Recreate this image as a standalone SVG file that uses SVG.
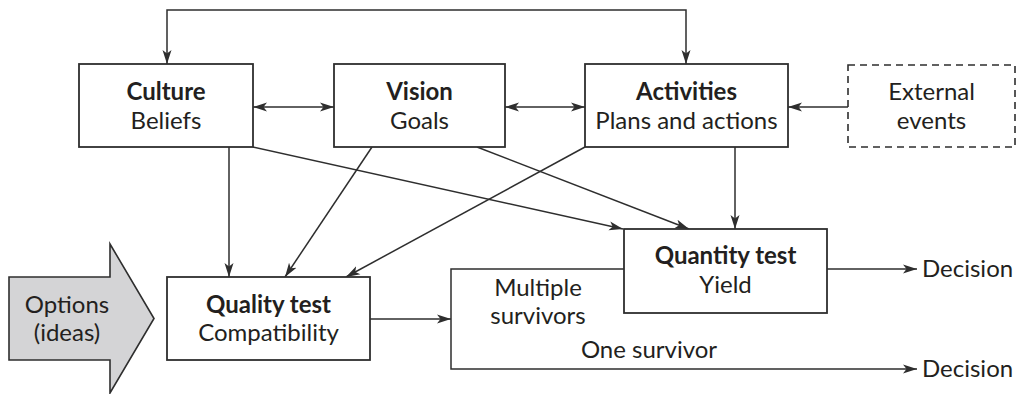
<svg xmlns="http://www.w3.org/2000/svg" width="1020" height="394" viewBox="0 0 1020 394">
  <style>
    .box { fill: #ffffff; stroke: #2e2e2e; stroke-width: 1.8; }
    .dashed { fill: #ffffff; stroke: #2e2e2e; stroke-width: 1.6; stroke-dasharray: 7 5; }
    .link { fill: none; stroke: #2e2e2e; stroke-width: 1.5; }
    .arrow { marker-end: url(#head); }
    .both { marker-start: url(#head); marker-end: url(#head); }
    text { font-family: Lato, "Liberation Sans", sans-serif; font-size: 24px; fill: #231f20; text-anchor: middle; }
    .title { font-weight: bold; }
    .left { text-anchor: start; }
  </style>
  <defs>
    <marker id="head" markerUnits="userSpaceOnUse" markerWidth="15" markerHeight="11" refX="14" refY="5.5" orient="auto-start-reverse">
      <path d="M0,1 L14,5.5 L0,10 L3.5,5.5 z" fill="#2e2e2e"/>
    </marker>
  </defs>

  <!-- connectors -->
  <g id="connectors">
    <path class="link both" d="M167,64 V10 H686 V64"/>
    <line class="link both" x1="253" y1="107" x2="334" y2="107"/>
    <line class="link both" x1="505" y1="107" x2="585" y2="107"/>
    <line class="link arrow" x1="848" y1="107" x2="788" y2="107"/>
    <line class="link arrow" x1="229" y1="147" x2="229" y2="277"/>
    <line class="link arrow" x1="372" y1="147" x2="285" y2="277"/>
    <line class="link arrow" x1="585" y1="147" x2="346" y2="277"/>
    <line class="link arrow" x1="253" y1="147" x2="623" y2="229"/>
    <line class="link arrow" x1="477" y1="147" x2="689" y2="229"/>
    <line class="link arrow" x1="735" y1="147" x2="735" y2="229"/>
    <line class="link arrow" x1="370" y1="319" x2="451" y2="319"/>
    <path class="link arrow" d="M624,269 H451 V369 H917"/>
    <line class="link arrow" x1="827" y1="269" x2="917" y2="269"/>
  </g>

  <!-- input arrow -->
  <g id="options">
    <polygon points="9,277 110,277 110,244 154,318.5 110,393 110,360 9,360" fill="#d4d4d6" stroke="#2e2e2e" stroke-width="1.6"/>
    <text x="67" y="313">Options</text>
    <text x="67" y="341">(ideas)</text>
  </g>

  <g id="culture">
    <rect class="box" x="79" y="64" width="174" height="83"/>
    <text class="title" x="166" y="100">Culture</text>
    <text x="166" y="129">Beliefs</text>
  </g>

  <g id="vision">
    <rect class="box" x="334" y="64" width="171" height="83"/>
    <text class="title" x="419.5" y="100">Vision</text>
    <text x="419.5" y="129">Goals</text>
  </g>

  <g id="activities">
    <rect class="box" x="585" y="64" width="203" height="83"/>
    <text class="title" x="686.5" y="100">Activities</text>
    <text x="686.5" y="129">Plans and actions</text>
  </g>

  <g id="external">
    <rect class="dashed" x="848" y="65" width="167" height="82"/>
    <text x="931.5" y="100">External</text>
    <text x="931.5" y="129">events</text>
  </g>

  <g id="quality">
    <rect class="box" x="167" y="277" width="203" height="83"/>
    <text class="title" x="268.5" y="313">Quality test</text>
    <text x="268.5" y="341">Compatibility</text>
  </g>

  <g id="quantity">
    <rect class="box" x="624" y="229" width="203" height="84"/>
    <text class="title" x="725.5" y="264">Quantity test</text>
    <text x="725.5" y="293">Yield</text>
  </g>

  <!-- branch labels and outcomes -->
  <g id="labels">
    <text x="538" y="296">Multiple</text>
    <text x="538" y="324">survivors</text>
    <text x="649" y="358">One survivor</text>
    <text class="left" x="922" y="277">Decision</text>
    <text class="left" x="922" y="377">Decision</text>
  </g>
</svg>
